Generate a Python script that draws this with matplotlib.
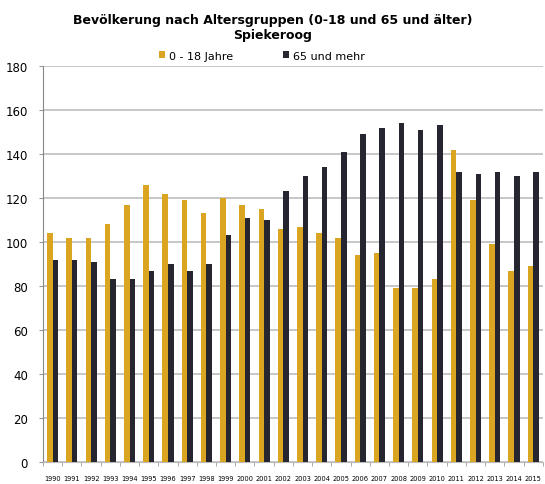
import numpy as np
import matplotlib.pyplot as plt

years = [str(y) for y in range(1990, 2016)]
jung = [104, 102, 102, 108, 117, 126, 122, 119, 113, 120, 117, 115, 106,
        107, 104, 102, 94, 95, 79, 79, 83, 142, 119, 99, 87, 89]
alt = [92, 92, 91, 83, 83, 87, 90, 87, 90, 103, 111, 110, 123,
       130, 134, 141, 149, 152, 154, 151, 153, 132, 131, 132, 130, 132]

gold = '#DAA520'
dark = '#262631'

fig = plt.figure(figsize=(5.45, 4.85), dpi=100)
ax = fig.add_axes([0.079, 0.045, 0.917, 0.817])

x = np.arange(len(years))
w = 0.29
ax.bar(x - w / 2, jung, w, color=gold, label='0 - 18 Jahre', zorder=3)
ax.bar(x + w / 2, alt, w, color=dark, label='65 und mehr', zorder=3)

ax.set_xlim(-0.5, len(years) - 0.5)
ax.set_ylim(0, 180)
ax.set_yticks(range(0, 181, 20))
ax.yaxis.grid(True, color='#BEBEBE', linewidth=1.2, zorder=0)
ax.tick_params(axis='y', labelsize=8.5, length=3, color='#999999', pad=8)

ax.set_xticks(x)
ax.set_xticklabels(years, fontsize=4.8)
ax.set_xticks(np.arange(-0.5, len(years)), minor=True)
ax.tick_params(axis='x', which='major', length=0, pad=9)
ax.tick_params(axis='x', which='minor', length=3, color='#999999')

for s in ['top', 'right']:
    ax.spines[s].set_visible(False)
ax.spines['left'].set_color('#888888')
ax.spines['bottom'].set_color('#BBBBBB')

fig.text(0.5, 0.942, 'Bevölkerung nach Altersgruppen (0-18 und 65 und älter)\nSpiekeroog',
         ha='center', va='center', fontsize=9, fontweight='bold', linespacing=1.25)
fig.legend(loc='center', bbox_to_anchor=(0.48, 0.883), ncol=2, frameon=False,
           fontsize=8, handlelength=0.6, handleheight=0.6, handletextpad=0.3,
           columnspacing=4.5)

fig.savefig('out.png', dpi=100)
